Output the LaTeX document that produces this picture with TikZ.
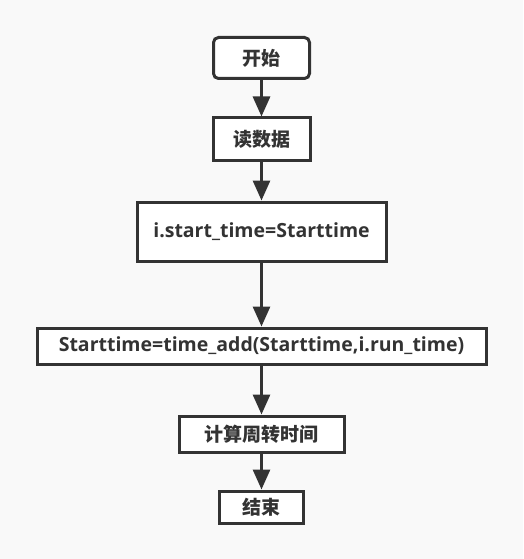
\documentclass[tikz,border=0pt]{standalone}
\usepackage{fontspec}
\setmainfont{Open Sans}
\newfontfamily\cjk{Noto Sans CJK SC}
\usetikzlibrary{arrows.meta}
\definecolor{bg}{RGB}{249,249,249}
\definecolor{ln}{RGB}{51,51,51}
\tikzset{
  box/.style={draw=ln,line width=3pt,fill=white,inner sep=0pt,font=\fontsize{19.5}{22}\selectfont\bfseries,text=ln},
  cn/.style={font=\fontsize{19}{22}\selectfont\cjk\bfseries},
  conn/.style={draw=ln,line width=3pt,-{Triangle[length=20pt,width=17pt]}}
}
\begin{document}
\begin{tikzpicture}[x=1pt,y=-1pt]
\fill[bg] (0,0) rectangle (523,559);
\useasboundingbox (0,0) rectangle (523,559);
\node[box,cn,rounded corners=5pt,minimum width=96pt,minimum height=41pt] (start) at (261.5,58) {开始};
\node[box,cn,minimum width=97pt,minimum height=42pt] (read) at (261.5,139) {读数据};
\node[box,minimum width=249pt,minimum height=59pt] (assign) at (261.5,231.5) {i.start\_time=Starttime};
\node[box,minimum width=449pt,minimum height=36pt] (add) at (261.5,346) {Starttime=time\_add(Starttime,i.run\_time)};
\node[box,cn,minimum width=165pt,minimum height=36pt] (calc) at (261.5,434) {计算周转时间};
\node[box,cn,minimum width=84pt,minimum height=32pt] (end) at (261.5,507) {结束};
\draw[conn] (start) -- (read);
\draw[conn] (read) -- (assign);
\draw[conn] (assign) -- (add);
\draw[conn] (add) -- (calc);
\draw[conn] (calc) -- (end);
\end{tikzpicture}
\end{document}
